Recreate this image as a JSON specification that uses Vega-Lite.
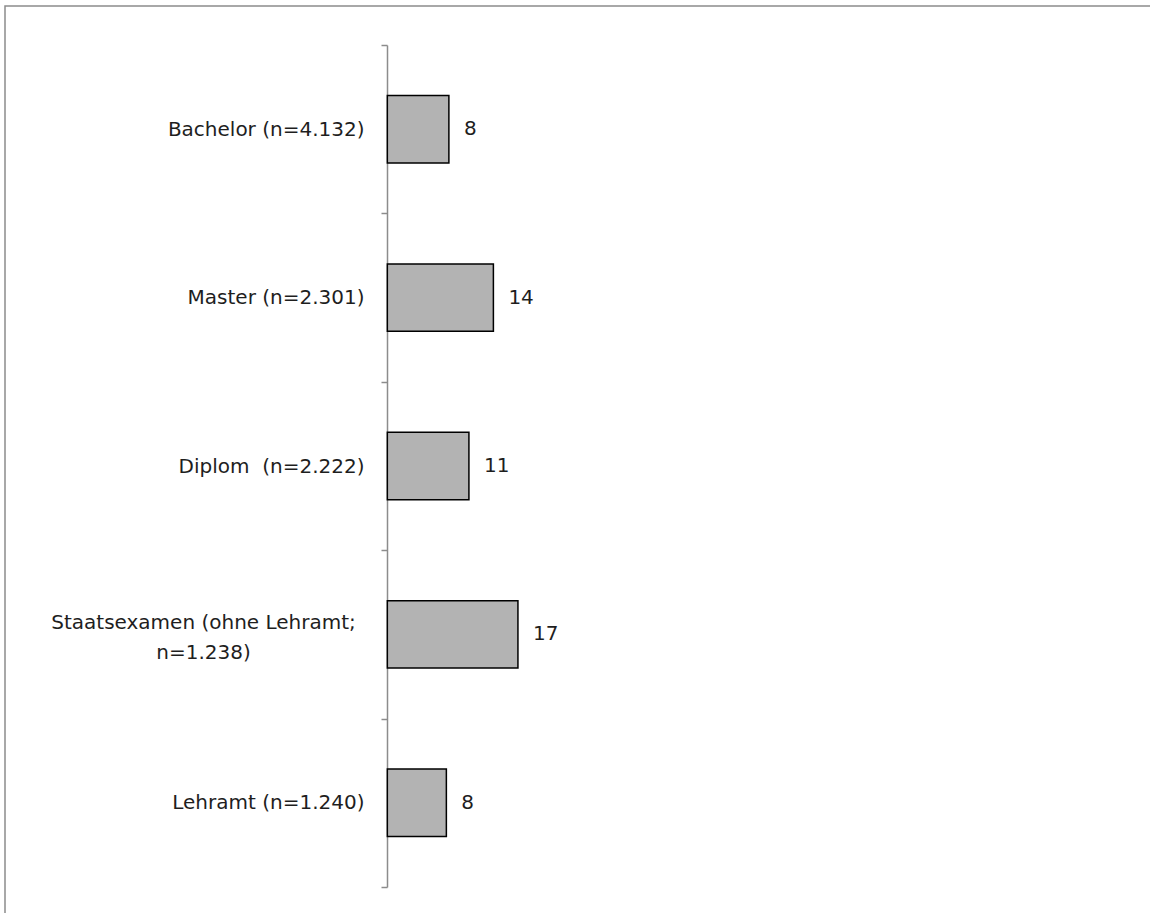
{
  "$schema": "https://vega.github.io/schema/vega-lite/v6.json",
  "width": 1147,
  "height": 909,
  "autosize": "none",
  "padding": {"left": 5, "top": 6, "right": 0, "bottom": 0},
  "background": "white",
  "config": {
    "view": {"stroke": "#8c8c8c", "strokeWidth": 1.5},
    "font": "DejaVu Sans"
  },
  "data": {
    "values": [
      {"abschluss": "Bachelor (n=4.132)", "anteil": 8.05},
      {"abschluss": "Master (n=2.301)", "anteil": 13.87},
      {"abschluss": "Diplom  (n=2.222)", "anteil": 10.67},
      {"abschluss": "Staatsexamen (ohne Lehramt; n=1.238)", "anteil": 17.08},
      {"abschluss": "Lehramt (n=1.240)", "anteil": 7.72}
    ]
  },
  "encoding": {
    "y": {
      "field": "abschluss",
      "type": "nominal",
      "sort": null,
      "scale": {"range": [39, 881], "paddingInner": 0, "paddingOuter": 0},
      "axis": {
        "title": null,
        "orient": "left",
        "offset": -382,
        "grid": false,
        "domainColor": "#8c8c8c",
        "domainWidth": 1.5,
        "tickColor": "#8c8c8c",
        "tickWidth": 1.5,
        "tickSize": 6,
        "tickBand": "extent",
        "labelFont": "DejaVu Sans",
        "labelFontSize": 20,
        "labelColor": "#1e1e1e",
        "labelLimit": 500,
        "labelOverlap": false,
        "labelLineHeight": 30,
        "labelExpr": "datum.value == 'Staatsexamen (ohne Lehramt; n=1.238)' ? ['Staatsexamen (ohne Lehramt;', 'n=1.238)'] : replace(datum.label, '  ', '\u00a0 ')",
        "labelAlign": {"condition": {"test": "datum.value == 'Staatsexamen (ohne Lehramt; n=1.238)'", "value": "center"}, "value": "right"},
        "labelPadding": {"condition": {"test": "datum.value == 'Staatsexamen (ohne Lehramt; n=1.238)'", "value": 178}, "value": 17},
        "labelOffset": {"condition": {"test": "datum.value == 'Staatsexamen (ohne Lehramt; n=1.238)'", "value": -12}, "value": 0}
      }
    },
    "x": {
      "field": "anteil",
      "type": "quantitative",
      "scale": {"domain": [-50, 100], "nice": false, "zero": false},
      "axis": null
    }
  },
  "layer": [
    {
      "mark": {"type": "bar", "height": {"band": 0.4}, "fill": "#b3b3b3", "stroke": "#000000", "strokeWidth": 1.5},
      "encoding": {"x2": {"datum": 0}}
    },
    {
      "mark": {"type": "text", "align": "left", "baseline": "middle", "dx": 15, "fontSize": 20, "color": "#1e1e1e", "font": "DejaVu Sans"},
      "encoding": {"text": {"field": "anteil", "type": "quantitative", "format": ".0f"}}
    }
  ]
}
